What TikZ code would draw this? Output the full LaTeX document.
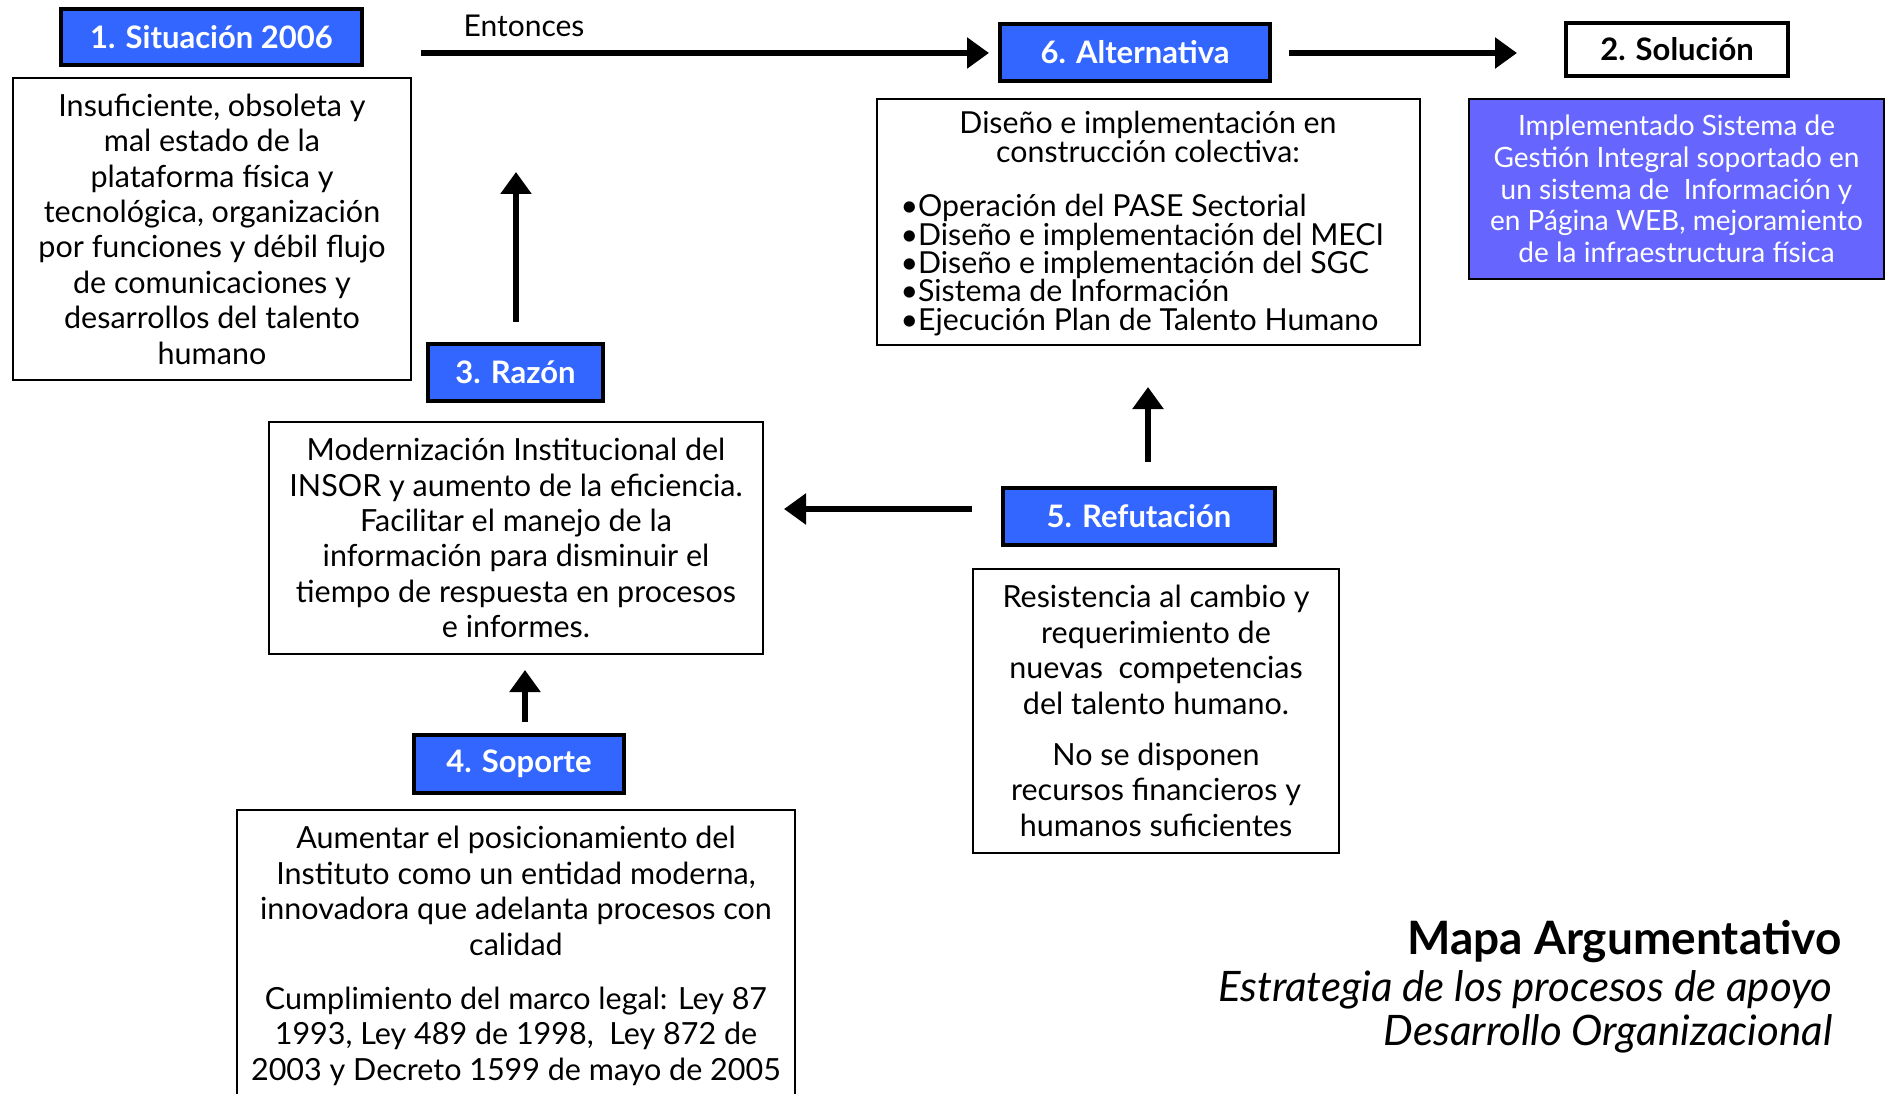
\documentclass[tikz,border=0pt]{standalone}
\usepackage{fontspec}
\setmainfont{Lato}
\usetikzlibrary{arrows.meta}
\definecolor{hblue}{RGB}{51,102,255}
\definecolor{hpurple}{RGB}{102,102,255}
\tikzset{
  hdr/.style={draw=black, line width=3.5pt, fill=hblue, text=white,
    font=\fontsize{31}{36}\selectfont\bfseries, inner sep=0pt},
  tbox/.style={draw=black, line width=2pt, fill=white, align=center, inner sep=0pt},
  body/.style={font=\fontsize{30.5}{35.4}\selectfont, align=center},
  small/.style={font=\fontsize{30.3}{28.3}\selectfont},
  arr/.style={line width=6pt, -{Triangle[length=22pt,width=30pt]}},
}
\begin{document}
\begin{tikzpicture}[x=1pt,y=-1pt]
\fill[white] (0,0) rectangle (1886,1094);
\useasboundingbox (0,0) rectangle (1886,1094);

% header boxes
\node[hdr, minimum width=301pt, minimum height=56pt] (h1) at (211.5,37) {1. Situación 2006};
\node[hdr, minimum width=270pt, minimum height=57pt] (h6) at (1135,52.5) {6. Alternativa};
\node[hdr, fill=white, text=black, minimum width=222pt, minimum height=53pt] (h2) at (1677,49.5) {2. Solución};
\node[hdr, minimum width=175pt, minimum height=57pt] (h3) at (515.5,372.5) {3. Razón};
\node[hdr, minimum width=272pt, minimum height=57pt] (h5) at (1139,516.5) {5. Refutación};
\node[hdr, minimum width=210pt, minimum height=58pt] (h4) at (519,764) {4. Soporte};

% text boxes
\node[tbox, body, minimum width=398pt, minimum height=302pt] (t1) at (212,229)
  {Insuficiente, obsoleta y\\mal estado de la\\plataforma física y\\tecnológica, organización\\por funciones y débil flujo\\de comunicaciones y\\desarrollos del talento\\humano};

\node[tbox, minimum width=543pt, minimum height=246pt] (t6) at (1148.5,222) {};
\node[small, align=center] (t6a) at (1148,137) {Diseño e implementación en\\construcción colectiva:};
\node[small, align=left, anchor=west] (t6b) at (897,265)
  {•Operación del PASE Sectorial\\•Diseño e implementación del MECI\\•Diseño e implementación del SGC\\•Sistema de Información\\•Ejecución Plan de Talento Humano};

\node[tbox, fill=hpurple, text=white, font=\fontsize{28}{31.7}\selectfont,
  minimum width=415pt, minimum height=180pt] (t2) at (1676.5,189)
  {Implementado Sistema de\\Gestión Integral soportado en\\un sistema de\ \ Información y\\en Página WEB, mejoramiento\\de la infraestructura física};

\node[tbox, body, minimum width=494pt, minimum height=232pt] (t3) at (516,538)
  {Modernización Institucional del\\INSOR y aumento de la eficiencia.\\Facilitar el manejo de la\\información para disminuir el\\tiempo de respuesta en procesos\\e informes.};

\node[tbox, body, minimum width=366pt, minimum height=284pt] (t5) at (1156,711)
  {Resistencia al cambio y\\requerimiento de\\nuevas\ \ competencias\\del talento humano.\\[16pt]No se disponen\\recursos financieros y\\humanos suficientes};

\node[tbox, minimum width=558pt, minimum height=292pt] (t4) at (516,956) {};
\node[body] (t4a) at (516,956)
  {Aumentar el posicionamiento del\\Instituto como un entidad moderna,\\innovadora que adelanta procesos con\\calidad\\[19pt]Cumplimiento del marco legal: Ley 87\\1993, Ley 489 de 1998,\ \ Ley 872 de\\2003 y Decreto 1599 de mayo de 2005};

% labels and titles
\node[font=\fontsize{30}{34}\selectfont] (ent) at (524,26) {Entonces};
\node[anchor=east, font=\fontsize{46}{52}\selectfont\bfseries] (title) at (1845,942) {Mapa Argumentativo};
\node[anchor=east, font=\fontsize{42}{48}\selectfont\itshape] (sub1) at (1836,990) {Estrategia de los procesos de apoyo};
\node[anchor=east, font=\fontsize{42}{48}\selectfont\itshape] (sub2) at (1836,1034) {Desarrollo Organizacional};

% connectors
\coordinate (a1s) at (421,53);  \coordinate (a1e) at (989,53);
\coordinate (a2s) at (1289,53); \coordinate (a2e) at (1517,53);
\coordinate (a3s) at (516,322); \coordinate (a3e) at (516,172);
\coordinate (a4s) at (972,509); \coordinate (a4e) at (784,509);
\coordinate (a5s) at (1148,462); \coordinate (a5e) at (1148,387);
\coordinate (a6s) at (525,722); \coordinate (a6e) at (525,670);
\draw[arr] (a1s) -- (a1e);
\draw[arr] (a2s) -- (a2e);
\draw[arr] (a3s) -- (a3e);
\draw[arr] (a4s) -- (a4e);
\draw[arr] (a5s) -- (a5e);
\draw[arr] (a6s) -- (a6e);
\end{tikzpicture}
\end{document}
